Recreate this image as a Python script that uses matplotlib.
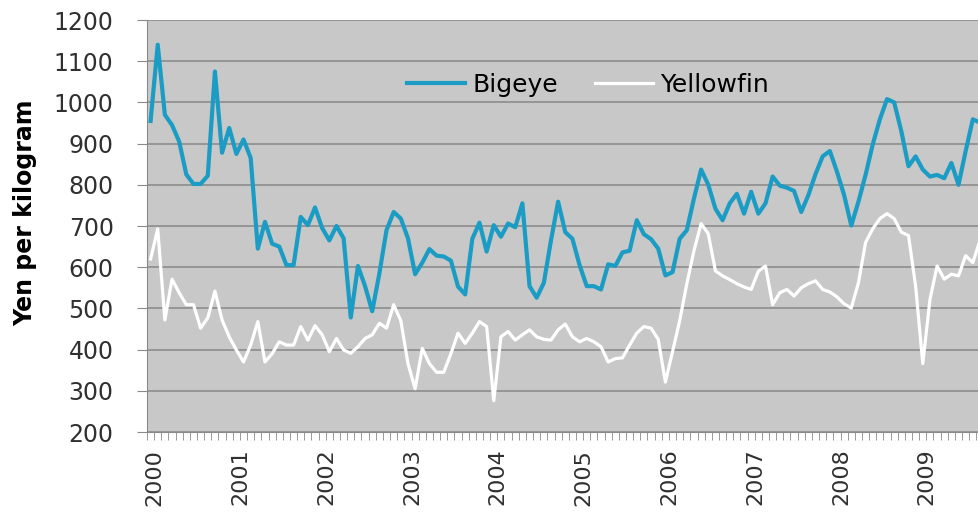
import numpy as np
import matplotlib.pyplot as plt
import matplotlib.transforms as mtransforms

# monthly prices, Jan 2000 onwards (yen per kg)
bigeye = [955, 1140, 970, 945, 905, 825, 802, 802, 822, 1075, 878, 938,
          875, 910, 865, 645, 710, 657, 650, 605, 605, 722, 702, 745,
          695, 665, 700, 670, 478, 603, 554, 493, 585, 690, 734, 718,
          670, 583, 611, 644, 628, 626, 616, 553, 534, 669, 708, 638,
          702, 674, 706, 697, 755, 554, 526, 562, 665, 759, 685, 669,
          605, 554, 554, 546, 607, 603, 636, 640, 714, 680, 668, 645,
          580, 588, 669, 690, 767, 837, 800, 742, 714, 755, 778, 730,
          783, 730, 755, 820, 798, 793, 785, 734, 775, 826, 869, 882,
          832, 775, 701, 759, 824, 898, 959, 1008, 1000, 930, 845, 869,
          837, 820, 824, 816, 853, 800, 882, 959, 951]
yellowfin = [620, 693, 472, 571, 538, 509, 509, 452, 477, 542, 472, 431,
             399, 370, 411, 468, 370, 390, 419, 411, 411, 456, 423, 458,
             436, 395, 427, 399, 391, 407, 427, 436, 464, 452, 509, 470,
             366, 305, 403, 366, 345, 345, 390, 440, 415, 440, 468, 456,
             276, 431, 444, 423, 436, 448, 431, 425, 423, 448, 462, 431,
             419, 427, 419, 407, 370, 378, 380, 411, 440, 456, 452, 425,
             321, 395, 470, 560, 640, 706, 681, 591, 579, 570, 560, 552,
             546, 590, 603, 509, 538, 546, 530, 550, 560, 567, 546, 540,
             528, 511, 501, 562, 660, 693, 718, 730, 718, 685, 677, 554,
             366, 521, 603, 571, 583, 579, 628, 611, 665]
years = ["2000", "2001", "2002", "2003", "2004",
         "2005", "2006", "2007", "2008", "2009"]
n_months = 120

W, H = 979, 513
fig = plt.figure(figsize=(W/100, H/100), dpi=100)
px_month = 7.15
left, top, bottom = 147, 20, 432
ax = fig.add_axes([left/W, (H-bottom)/H, n_months*px_month/W, (bottom-top)/H])

ax.set_facecolor("#c8c8c8")
x = np.arange(len(bigeye))
ax.plot(x, bigeye, color="#1b9cc4", lw=3.0, label="Bigeye", solid_joinstyle="round")
ax.plot(x, yellowfin, color="white", lw=2.3, label="Yellowfin", solid_joinstyle="round")

ax.set_xlim(-0.5, n_months-0.5)
ax.set_ylim(200, 1200)
ax.set_yticks(np.arange(200, 1201, 100))
ax.yaxis.grid(True, color="#878787", lw=1.1)
ax.set_axisbelow(True)

ax.set_xticks(np.arange(0, n_months, 12))
ax.set_xticklabels(years, rotation=90)
ax.set_xticks(np.arange(-0.5, n_months, 1), minor=True)
ax.tick_params(axis="x", which="major", length=0, pad=12)
ax.tick_params(axis="x", which="minor", length=6, color="#8a8a8a", direction="out")
ax.tick_params(axis="y", length=7, color="#8a8a8a", pad=17)
shift = mtransforms.ScaledTranslation(4/100, 0, fig.dpi_scale_trans)
for lab in ax.get_xticklabels():
    lab.set_transform(lab.get_transform() + shift)
    lab.set_fontsize(16)
for lab in ax.get_yticklabels():
    lab.set_fontsize(17)
for lab in ax.get_xticklabels() + ax.get_yticklabels():
    lab.set_color("#303030")

for s in ["top", "right"]:
    ax.spines[s].set_visible(False)
for s in ["left", "bottom"]:
    ax.spines[s].set_color("#8a8a8a")

ax.set_ylabel("Yen per kilogram", fontsize=17, fontweight="bold")
ax.yaxis.set_label_coords((37-left)/(n_months*px_month), (bottom-213)/(bottom-top))

fig.legend(loc="center", bbox_to_anchor=(588/W, 1-85/H), ncol=2, frameon=False,
           fontsize=18, handlelength=2.3, handletextpad=0.3, columnspacing=1.5)

fig.savefig("out.png", dpi=100)
